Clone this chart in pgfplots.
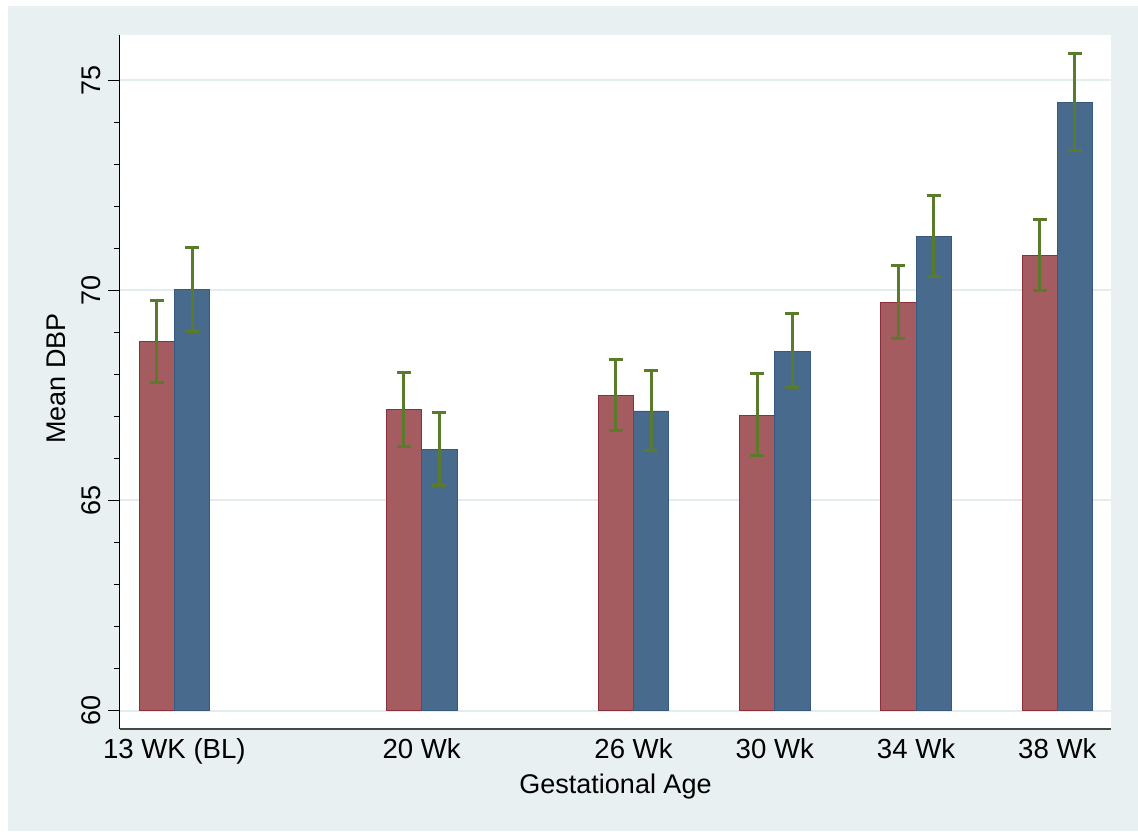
\documentclass[border=0pt]{standalone}
\usepackage{pgfplots}
\usepackage{pgfplotstable}
\pgfplotsset{compat=1.18}
\usepackage{fontspec}
\setmainfont{Liberation Sans}
\definecolor{bgc}{HTML}{E8F0F2}
\definecolor{gridc}{HTML}{E3ECEF}
\definecolor{redf}{HTML}{A45C61}
\definecolor{redd}{HTML}{8C2F3A}
\definecolor{bluef}{HTML}{486A8C}
\definecolor{blued}{HTML}{35597F}
\definecolor{errc}{HTML}{5B7B2C}

% x = gestational week - 0.5 (red) / + 0.5 (blue); y = mean DBP; ep/em = CI half widths
\pgfplotstableread{
x y ep em
12.5 68.78 0.97 0.97
19.5 67.17 0.88 0.88
25.5 67.51 0.85 0.84
29.5 67.03 0.99 0.96
33.5 69.71 0.89 0.85
37.5 70.84 0.86 0.83
}\redtab
\pgfplotstableread{
x y ep em
13.5 70.02 1.00 0.99
20.5 66.21 0.89 0.85
26.5 67.13 0.96 0.93
30.5 68.55 0.90 0.87
34.5 71.29 0.96 0.95
38.5 74.48 1.16 1.16
}\bluetab

\begin{document}
\begin{tikzpicture}
\useasboundingbox (-60pt,-51pt) rectangle (509pt,364.5pt);
\fill[white] (-60pt,-51pt) rectangle (509pt,364.5pt);
\fill[bgc] (-56pt,-51pt) rectangle (509pt,361.5pt);
\fill[white] (0,0) rectangle (495.5pt,347pt);
\begin{axis}[
  scale only axis, width=495.5pt, height=347pt,
  xmin=11.46, xmax=39.52, ymin=-0.44, ymax=16.08,
  y filter/.expression={y-60},
  axis x line*=bottom, axis y line*=left,
  x axis line style={draw=black!72, line width=0.7pt, -},
  y axis line style={draw=black, line width=0.5pt, -},
  xtick={13,20,26,30,34,38},
  xticklabels={13 WK (BL),20 Wk,26 Wk,30 Wk,34 Wk,38 Wk},
  ytick={0,5,10,15}, yticklabels={60,65,70,75},
  minor ytick={1,2,3,4,6,7,8,9,11,12,13,14},
  tick align=outside, major tick length=6pt, minor tick length=3pt,
  ytick style={black, line width=0.5pt},
  xtick style={draw=none},
  ymajorgrids, major grid style={gridc, line width=1pt},
  /pgf/number format/assume math mode=true,
  tick label style={font=\fontsize{13.5}{16}\selectfont},
  xticklabel style={font=\fontsize{13.8}{16}\selectfont},
  label style={font=\fontsize{13.5}{16}\selectfont},
  xticklabel style={anchor=base, yshift=-8.5pt},
  yticklabel style={rotate=90, anchor=south},
  xlabel={Gestational Age}, ylabel={Mean DBP},
  xlabel style={at={(axis description cs:0.5,-0.0935)}, anchor=base},
  ylabel style={at={(axis description cs:-0.0555,0.505)}, anchor=base},
  clip=false,
]
\addplot[ybar, bar width=1, bar shift=0pt, fill=redf, draw=redd, line width=0.4pt,
  error bars/.cd, y dir=both, y explicit, error mark=-,
  error bar style={errc, line width=1.5pt},
  error mark options={rotate=90, errc, line width=1.5pt, mark size=3.5pt}]
  table[x=x, y=y, y error plus=ep, y error minus=em]{\redtab};
\addplot[ybar, bar width=1, bar shift=0pt, fill=bluef, draw=blued, line width=0.4pt,
  error bars/.cd, y dir=both, y explicit, error mark=-,
  error bar style={errc, line width=1.5pt},
  error mark options={rotate=90, errc, line width=1.5pt, mark size=3.5pt}]
  table[x=x, y=y, y error plus=ep, y error minus=em]{\bluetab};
\end{axis}
\end{tikzpicture}
\end{document}
